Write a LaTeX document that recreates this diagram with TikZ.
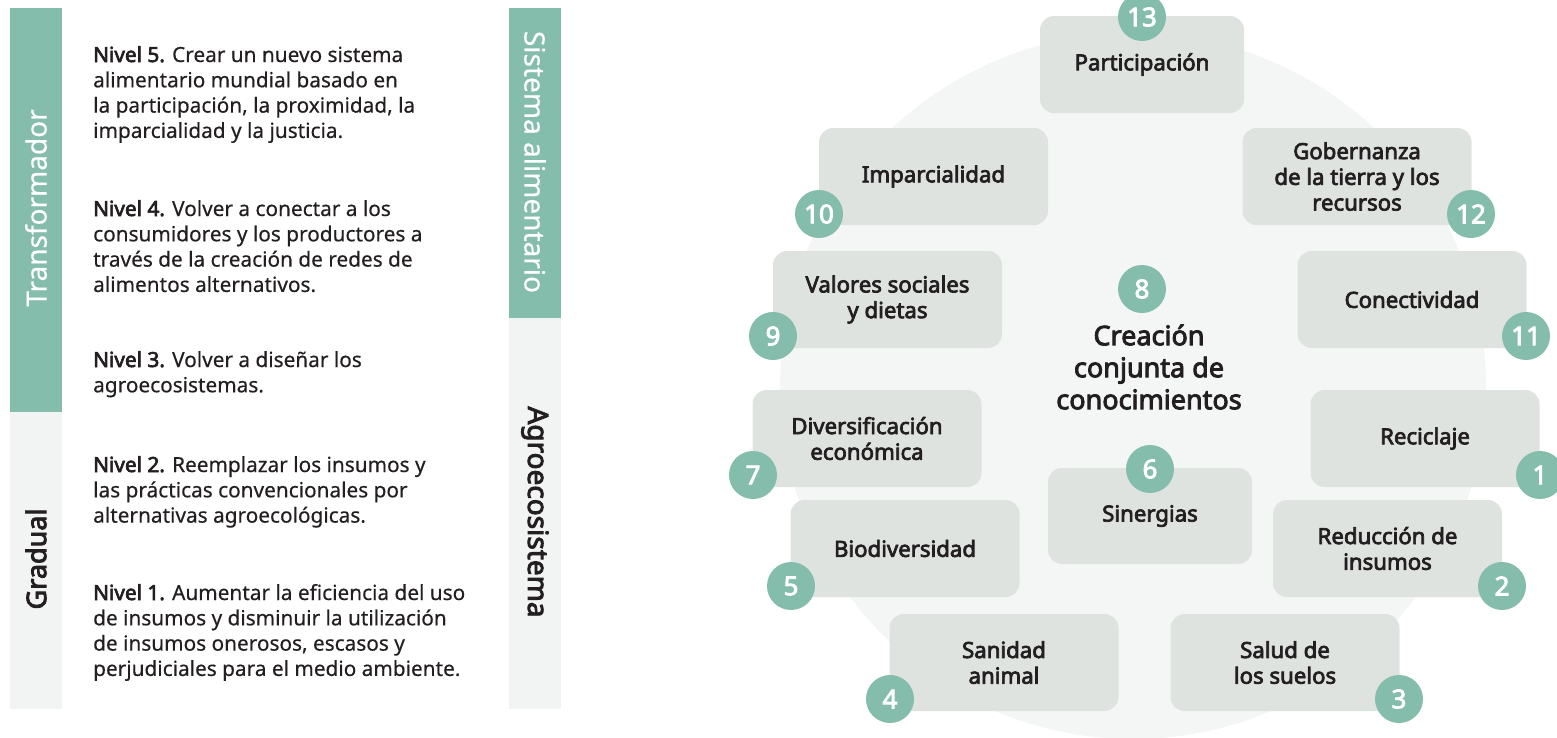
\documentclass[tikz,border=0pt]{standalone}
\usepackage{fontspec}
\setmainfont{Noto Sans}[UprightFeatures={FakeBold=0.4}, BoldFont={Noto Sans}, BoldFeatures={FakeBold=3.2}]
\definecolor{tealc}{HTML}{84BDAC}
\definecolor{boxc}{HTML}{DFE3E0}
\definecolor{bgc}{HTML}{F4F6F5}
\definecolor{barc}{HTML}{F2F4F3}
\definecolor{txtc}{HTML}{231F20}
\begin{document}
\begin{tikzpicture}[x=1pt,y=-1pt,
  lbl/.style={fill=boxc, rounded corners=14pt, minimum width=229pt, minimum height=97pt, align=center, text=txtc, font=\bfseries\fontsize{22.2}{25.7}\selectfont, inner sep=0pt},
  num/.style={circle, fill=tealc, minimum size=48pt, inner sep=0pt, text=white, font=\bfseries\fontsize{26}{26}\selectfont},
  body/.style={anchor=base west, inner sep=0pt, text=txtc, font=\fontsize{20.8}{25.3}\selectfont},
  barlbl/.style={inner sep=0pt, font=\fontsize{28}{28}\selectfont},
]
\useasboundingbox (0,0) rectangle (1557,737);
% left bars
\fill[tealc] (10,8) rectangle (62,412);
\fill[barc] (10,412) rectangle (62,709);
\fill[tealc] (509,8) rectangle (561,318);
\fill[barc] (509,318) rectangle (561,709);
\node[barlbl, rotate=90, text=white] (tr) at (36,208) {Transformador};
\node[barlbl, rotate=90, text=txtc, font=\bfseries\fontsize{27}{27}\selectfont] (gr) at (36,559) {Gradual};
\node[barlbl, rotate=-90, text=white] (sa) at (535,162) {Sistema alimentario};
\node[barlbl, rotate=-90, text=txtc, font=\bfseries\fontsize{28}{28}\selectfont] (ag) at (535,512) {Agroecosistema};
% level texts
\node[body] (t5) at (93,62) {\begin{tabular}[t]{@{}l@{}}\textbf{Nivel 5.} Crear un nuevo sistema\\ alimentario mundial basado en\\ la participación, la proximidad, la\\ imparcialidad y la justicia.\end{tabular}};
\node[body] (t4) at (93,216) {\begin{tabular}[t]{@{}l@{}}\textbf{Nivel 4.} Volver a conectar a los\\ consumidores y los productores a\\ través de la creación de redes de\\ alimentos alternativos.\end{tabular}};
\node[body] (t3) at (93,367) {\begin{tabular}[t]{@{}l@{}}\textbf{Nivel 3.} Volver a diseñar los\\ agroecosistemas.\end{tabular}};
\node[body] (t2) at (93,472) {\begin{tabular}[t]{@{}l@{}}\textbf{Nivel 2.} Reemplazar los insumos y\\ las prácticas convencionales por\\ alternativas agroecológicas.\end{tabular}};
\node[body] (t1) at (93,600) {\begin{tabular}[t]{@{}l@{}}\textbf{Nivel 1.} Aumentar la eficiencia del uso\\ de insumos y disminuir la utilización\\ de insumos onerosos, escasos y\\ perjudiciales para el medio ambiente.\end{tabular}};
% background circle
\fill[bgc] (1133,386) circle[radius=353pt];
% boxes
\node[lbl, minimum width=204pt] (b13) at (1142,64.5) {Participación};
\node[lbl] (b10) at (933.5,176.5) {Imparcialidad};
\node[lbl] (b12) at (1357,176.5) {Gobernanza\\de la tierra y los\\recursos};
\node[lbl] (b9) at (887.5,299.5) {Valores sociales\\y dietas};
\node[lbl] (b11) at (1412,299.5) {Conectividad};
\node[lbl] (b7) at (867,438.5) {Diversificación\\económica};
\node[lbl] (b1) at (1425,438.5) {Reciclaje};
\node[lbl, minimum width=204pt, minimum height=96pt] (b6) at (1150,516) {Sinergias};
\node[lbl] (b5) at (905,548.5) {Biodiversidad};
\node[lbl] (b2) at (1387.5,548.5) {Reducción de\\insumos};
\node[lbl] (b4) at (1004,662.5) {Sanidad\\animal};
\node[lbl] (b3) at (1285,662.5) {Salud de\\los suelos};
% centre
\node[align=center, text=txtc, font=\bfseries\fontsize{27}{32}\selectfont] (c) at (1149,367) {Creación\\conjunta de\\conocimientos};
% numbers
\node[num] (n13) at (1142,17) {13};
\node[num] (n10) at (819,214) {10};
\node[num] (n12) at (1471,214) {12};
\node[num] (n9) at (773,336) {9};
\node[num] (n11) at (1526,336) {11};
\node[num] (n8) at (1142,289) {8};
\node[num] (n7) at (753,475) {7};
\node[num] (n1) at (1540,475) {1};
\node[num] (n6) at (1150,469) {6};
\node[num] (n5) at (791,586) {5};
\node[num] (n2) at (1502,586) {2};
\node[num] (n4) at (890,699) {4};
\node[num] (n3) at (1399,699) {3};
\end{tikzpicture}
\end{document}
